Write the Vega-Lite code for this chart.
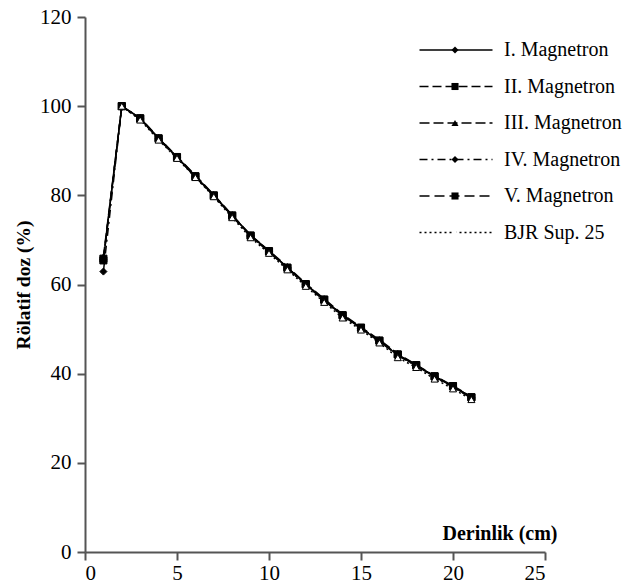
{
  "$schema": "https://vega.github.io/schema/vega-lite/v6.json",
  "autosize": "none",
  "width": 460,
  "height": 535,
  "padding": {"left": 85, "top": 17, "right": 83, "bottom": 35},
  "background": "white",
  "config": {
    "view": {"stroke": null}
  },
  "data": {
    "values": [
      {"seri": "I. Magnetron", "derinlik": 1, "doz": 65.5},
      {"seri": "I. Magnetron", "derinlik": 2, "doz": 100},
      {"seri": "I. Magnetron", "derinlik": 3, "doz": 97.3},
      {"seri": "I. Magnetron", "derinlik": 4, "doz": 92.8},
      {"seri": "I. Magnetron", "derinlik": 5, "doz": 88.6},
      {"seri": "I. Magnetron", "derinlik": 6, "doz": 84.3},
      {"seri": "I. Magnetron", "derinlik": 7, "doz": 80.0},
      {"seri": "I. Magnetron", "derinlik": 8, "doz": 75.5},
      {"seri": "I. Magnetron", "derinlik": 9, "doz": 71.0},
      {"seri": "I. Magnetron", "derinlik": 10, "doz": 67.5},
      {"seri": "I. Magnetron", "derinlik": 11, "doz": 63.8},
      {"seri": "I. Magnetron", "derinlik": 12, "doz": 60.0},
      {"seri": "I. Magnetron", "derinlik": 13, "doz": 56.5},
      {"seri": "I. Magnetron", "derinlik": 14, "doz": 53.0},
      {"seri": "I. Magnetron", "derinlik": 15, "doz": 50.2},
      {"seri": "I. Magnetron", "derinlik": 16, "doz": 47.3},
      {"seri": "I. Magnetron", "derinlik": 17, "doz": 44.2},
      {"seri": "I. Magnetron", "derinlik": 18, "doz": 41.8},
      {"seri": "I. Magnetron", "derinlik": 19, "doz": 39.3},
      {"seri": "I. Magnetron", "derinlik": 20, "doz": 37.1},
      {"seri": "I. Magnetron", "derinlik": 21, "doz": 34.6},
      {"seri": "II. Magnetron", "derinlik": 1, "doz": 65.8},
      {"seri": "II. Magnetron", "derinlik": 2, "doz": 100},
      {"seri": "II. Magnetron", "derinlik": 3, "doz": 97.2},
      {"seri": "II. Magnetron", "derinlik": 4, "doz": 92.7},
      {"seri": "II. Magnetron", "derinlik": 5, "doz": 88.5},
      {"seri": "II. Magnetron", "derinlik": 6, "doz": 84.2},
      {"seri": "II. Magnetron", "derinlik": 7, "doz": 79.9},
      {"seri": "II. Magnetron", "derinlik": 8, "doz": 75.4},
      {"seri": "II. Magnetron", "derinlik": 9, "doz": 70.9},
      {"seri": "II. Magnetron", "derinlik": 10, "doz": 67.4},
      {"seri": "II. Magnetron", "derinlik": 11, "doz": 63.7},
      {"seri": "II. Magnetron", "derinlik": 12, "doz": 60.0},
      {"seri": "II. Magnetron", "derinlik": 13, "doz": 56.6},
      {"seri": "II. Magnetron", "derinlik": 14, "doz": 53.1},
      {"seri": "II. Magnetron", "derinlik": 15, "doz": 50.3},
      {"seri": "II. Magnetron", "derinlik": 16, "doz": 47.4},
      {"seri": "II. Magnetron", "derinlik": 17, "doz": 44.3},
      {"seri": "II. Magnetron", "derinlik": 18, "doz": 41.9},
      {"seri": "II. Magnetron", "derinlik": 19, "doz": 39.4},
      {"seri": "II. Magnetron", "derinlik": 20, "doz": 37.2},
      {"seri": "II. Magnetron", "derinlik": 21, "doz": 34.7},
      {"seri": "III. Magnetron", "derinlik": 1, "doz": 66.2},
      {"seri": "III. Magnetron", "derinlik": 2, "doz": 100},
      {"seri": "III. Magnetron", "derinlik": 3, "doz": 97.4},
      {"seri": "III. Magnetron", "derinlik": 4, "doz": 92.9},
      {"seri": "III. Magnetron", "derinlik": 5, "doz": 88.7},
      {"seri": "III. Magnetron", "derinlik": 6, "doz": 84.5},
      {"seri": "III. Magnetron", "derinlik": 7, "doz": 80.1},
      {"seri": "III. Magnetron", "derinlik": 8, "doz": 75.6},
      {"seri": "III. Magnetron", "derinlik": 9, "doz": 71.1},
      {"seri": "III. Magnetron", "derinlik": 10, "doz": 67.6},
      {"seri": "III. Magnetron", "derinlik": 11, "doz": 64.0},
      {"seri": "III. Magnetron", "derinlik": 12, "doz": 60.2},
      {"seri": "III. Magnetron", "derinlik": 13, "doz": 56.8},
      {"seri": "III. Magnetron", "derinlik": 14, "doz": 53.3},
      {"seri": "III. Magnetron", "derinlik": 15, "doz": 50.4},
      {"seri": "III. Magnetron", "derinlik": 16, "doz": 47.6},
      {"seri": "III. Magnetron", "derinlik": 17, "doz": 44.5},
      {"seri": "III. Magnetron", "derinlik": 18, "doz": 42.0},
      {"seri": "III. Magnetron", "derinlik": 19, "doz": 39.5},
      {"seri": "III. Magnetron", "derinlik": 20, "doz": 37.3},
      {"seri": "III. Magnetron", "derinlik": 21, "doz": 34.8},
      {"seri": "IV. Magnetron", "derinlik": 1, "doz": 62.9},
      {"seri": "IV. Magnetron", "derinlik": 2, "doz": 99.8},
      {"seri": "IV. Magnetron", "derinlik": 3, "doz": 97.1},
      {"seri": "IV. Magnetron", "derinlik": 4, "doz": 92.6},
      {"seri": "IV. Magnetron", "derinlik": 5, "doz": 88.4},
      {"seri": "IV. Magnetron", "derinlik": 6, "doz": 84.1},
      {"seri": "IV. Magnetron", "derinlik": 7, "doz": 79.8},
      {"seri": "IV. Magnetron", "derinlik": 8, "doz": 75.3},
      {"seri": "IV. Magnetron", "derinlik": 9, "doz": 70.8},
      {"seri": "IV. Magnetron", "derinlik": 10, "doz": 67.3},
      {"seri": "IV. Magnetron", "derinlik": 11, "doz": 63.6},
      {"seri": "IV. Magnetron", "derinlik": 12, "doz": 59.9},
      {"seri": "IV. Magnetron", "derinlik": 13, "doz": 56.4},
      {"seri": "IV. Magnetron", "derinlik": 14, "doz": 52.9},
      {"seri": "IV. Magnetron", "derinlik": 15, "doz": 50.1},
      {"seri": "IV. Magnetron", "derinlik": 16, "doz": 47.2},
      {"seri": "IV. Magnetron", "derinlik": 17, "doz": 44.1},
      {"seri": "IV. Magnetron", "derinlik": 18, "doz": 41.7},
      {"seri": "IV. Magnetron", "derinlik": 19, "doz": 39.2},
      {"seri": "IV. Magnetron", "derinlik": 20, "doz": 37.0},
      {"seri": "IV. Magnetron", "derinlik": 21, "doz": 34.5},
      {"seri": "V. Magnetron", "derinlik": 1, "doz": 65.4},
      {"seri": "V. Magnetron", "derinlik": 2, "doz": 100},
      {"seri": "V. Magnetron", "derinlik": 3, "doz": 97.3},
      {"seri": "V. Magnetron", "derinlik": 4, "doz": 92.8},
      {"seri": "V. Magnetron", "derinlik": 5, "doz": 88.6},
      {"seri": "V. Magnetron", "derinlik": 6, "doz": 84.3},
      {"seri": "V. Magnetron", "derinlik": 7, "doz": 80.0},
      {"seri": "V. Magnetron", "derinlik": 8, "doz": 75.5},
      {"seri": "V. Magnetron", "derinlik": 9, "doz": 71.0},
      {"seri": "V. Magnetron", "derinlik": 10, "doz": 67.5},
      {"seri": "V. Magnetron", "derinlik": 11, "doz": 63.8},
      {"seri": "V. Magnetron", "derinlik": 12, "doz": 60.1},
      {"seri": "V. Magnetron", "derinlik": 13, "doz": 56.6},
      {"seri": "V. Magnetron", "derinlik": 14, "doz": 53.1},
      {"seri": "V. Magnetron", "derinlik": 15, "doz": 50.3},
      {"seri": "V. Magnetron", "derinlik": 16, "doz": 47.4},
      {"seri": "V. Magnetron", "derinlik": 17, "doz": 44.3},
      {"seri": "V. Magnetron", "derinlik": 18, "doz": 41.9},
      {"seri": "V. Magnetron", "derinlik": 19, "doz": 39.4},
      {"seri": "V. Magnetron", "derinlik": 20, "doz": 37.2},
      {"seri": "V. Magnetron", "derinlik": 21, "doz": 34.7},
      {"seri": "BJR Sup. 25", "derinlik": 2, "doz": 100},
      {"seri": "BJR Sup. 25", "derinlik": 3, "doz": 96.9},
      {"seri": "BJR Sup. 25", "derinlik": 4, "doz": 92.4},
      {"seri": "BJR Sup. 25", "derinlik": 5, "doz": 88.3},
      {"seri": "BJR Sup. 25", "derinlik": 6, "doz": 84.0},
      {"seri": "BJR Sup. 25", "derinlik": 7, "doz": 79.7},
      {"seri": "BJR Sup. 25", "derinlik": 8, "doz": 75.0},
      {"seri": "BJR Sup. 25", "derinlik": 9, "doz": 70.5},
      {"seri": "BJR Sup. 25", "derinlik": 10, "doz": 67.0},
      {"seri": "BJR Sup. 25", "derinlik": 11, "doz": 63.3},
      {"seri": "BJR Sup. 25", "derinlik": 12, "doz": 59.6},
      {"seri": "BJR Sup. 25", "derinlik": 13, "doz": 56.0},
      {"seri": "BJR Sup. 25", "derinlik": 14, "doz": 52.5},
      {"seri": "BJR Sup. 25", "derinlik": 15, "doz": 49.8},
      {"seri": "BJR Sup. 25", "derinlik": 16, "doz": 46.9},
      {"seri": "BJR Sup. 25", "derinlik": 17, "doz": 43.6},
      {"seri": "BJR Sup. 25", "derinlik": 18, "doz": 41.4},
      {"seri": "BJR Sup. 25", "derinlik": 19, "doz": 38.8},
      {"seri": "BJR Sup. 25", "derinlik": 20, "doz": 36.6},
      {"seri": "BJR Sup. 25", "derinlik": 21, "doz": 34.2}
    ]
  },
  "encoding": {
    "x": {
      "field": "derinlik",
      "type": "quantitative",
      "scale": {"domain": [0, 25], "nice": false, "zero": true},
      "axis": {
        "values": [0, 5, 10, 15, 20, 25],
        "grid": false,
        "domainColor": "#555555",
        "domainWidth": 2,
        "tickColor": "#555555",
        "tickWidth": 2,
        "tickSize": 8,
        "labelFont": "Liberation Serif",
        "labelFontSize": 21,
        "labelColor": "black",
        "labelPadding": 2,
        "title": "Derinlik (cm)",
        "titleFont": "Liberation Serif",
        "titleFontSize": 20,
        "titleFontWeight": "bold",
        "titleColor": "black",
        "titleAnchor": null,
        "titleAlign": "right",
        "titleBaseline": "middle",
        "titleX": 472,
        "titleY": -19
      }
    },
    "y": {
      "field": "doz",
      "type": "quantitative",
      "scale": {"domain": [0, 120], "nice": false},
      "axis": {
        "values": [0, 20, 40, 60, 80, 100, 120],
        "grid": false,
        "domainColor": "#555555",
        "domainWidth": 2,
        "tickColor": "#555555",
        "tickWidth": 2,
        "tickSize": 8,
        "labelFont": "Liberation Serif",
        "labelFontSize": 21,
        "labelColor": "black",
        "labelPadding": 6,
        "title": "Rölatif doz (%)",
        "titleFont": "Liberation Serif",
        "titleFontSize": 19.5,
        "titleFontWeight": "bold",
        "titleColor": "black",
        "titlePadding": 6
      }
    }
  },
  "layer": [
    {
      "mark": {"type": "line", "color": "black", "strokeWidth": 1.5},
      "encoding": {
        "strokeDash": {
          "field": "seri",
          "type": "nominal",
          "sort": ["I. Magnetron", "II. Magnetron", "III. Magnetron", "IV. Magnetron", "V. Magnetron", "BJR Sup. 25"],
          "scale": {"range": [[1, 0], [9, 4], [10, 4], [8, 4, 2, 4], [10, 5], [2, 3]]},
          "legend": {
            "title": null,
            "orient": "none",
            "legendX": 361,
            "legendY": 23,
            "padding": 0,
            "symbolType": "M-7.3,0L7.3,0",
            "symbolSize": 100,
            "symbolStrokeWidth": 1.5,
            "symbolStrokeColor": "black",
            "labelOffset": 38,
            "labelFont": "Liberation Serif",
            "labelFontSize": 20,
            "labelColor": "black",
            "labelLimit": 300,
            "rowPadding": 16.5
          }
        }
      }
    },
    {
      "transform": [{"filter": {"field": "doz", "valid": true}}],
      "mark": {"type": "point", "filled": true, "stroke": "black", "strokeWidth": 1, "opacity": 1, "size": 50},
      "encoding": {
        "shape": {
          "field": "seri",
          "type": "nominal",
          "scale": {
            "domain": ["I. Magnetron", "II. Magnetron", "III. Magnetron", "IV. Magnetron", "V. Magnetron", "BJR Sup. 25"],
            "range": ["diamond", "square", "triangle-up", "diamond", "square", "triangle-up"]
          },
          "legend": {
            "title": "",
            "orient": "top-left",
            "offset": 23,
            "symbolOffset": 337,
            "symbolSize": 50,
            "symbolStrokeColor": "black",
            "symbolStrokeWidth": 1,
            "labelFont": "Liberation Serif",
            "labelFontSize": 20,
            "labelColor": "transparent",
            "labelOffset": -190,
            "labelLimit": 300,
            "rowPadding": 16.5
          }
        },
        "fill": {
          "field": "seri",
          "type": "nominal",
          "scale": {
            "domain": ["I. Magnetron", "II. Magnetron", "III. Magnetron", "IV. Magnetron", "V. Magnetron", "BJR Sup. 25"],
            "range": ["black", "black", "black", "black", "black", "white"]
          },
          "legend": {
            "title": "",
            "orient": "top-left",
            "offset": 23,
            "symbolOffset": 337,
            "symbolSize": 50,
            "symbolStrokeColor": "black",
            "symbolStrokeWidth": 1,
            "labelFont": "Liberation Serif",
            "labelFontSize": 20,
            "labelColor": "transparent",
            "labelOffset": -190,
            "labelLimit": 300,
            "rowPadding": 16.5
          }
        }
      }
    }
  ]
}
